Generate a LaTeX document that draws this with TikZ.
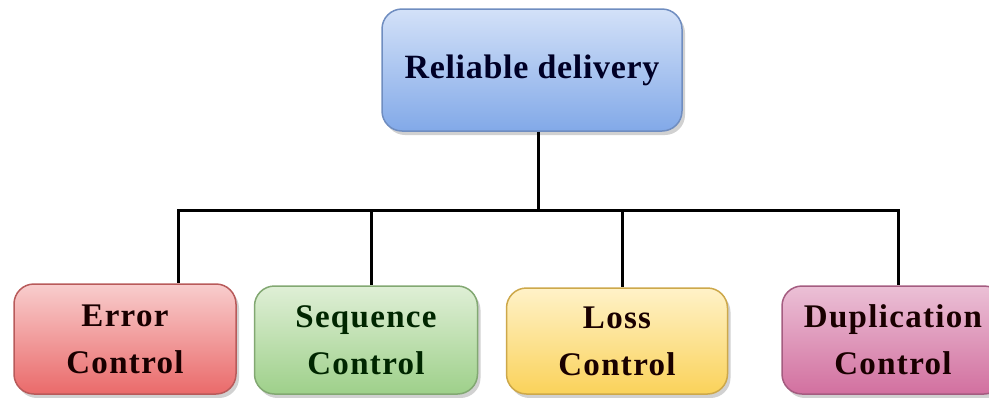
\documentclass[tikz,border=0pt]{standalone}
\usepackage{fontspec}
\setmainfont{Liberation Serif}
\usetikzlibrary{shadows}
\definecolor{bluetop}{HTML}{D3E1F8}
\definecolor{bluebot}{HTML}{82A9E8}
\definecolor{blueline}{HTML}{6F8DC0}
\definecolor{redtop}{HTML}{F8CDCD}
\definecolor{redbot}{HTML}{EA6A6A}
\definecolor{redline}{HTML}{B85A5A}
\definecolor{greentop}{HTML}{DFEFD6}
\definecolor{greenbot}{HTML}{9ED08A}
\definecolor{greenline}{HTML}{82A872}
\definecolor{yellowtop}{HTML}{FFF2C8}
\definecolor{yellowbot}{HTML}{FAD25A}
\definecolor{yellowline}{HTML}{CDA84A}
\definecolor{pinktop}{HTML}{EBC0D6}
\definecolor{pinkbot}{HTML}{D2709F}
\definecolor{pinkline}{HTML}{A45C80}
\begin{document}
\begin{tikzpicture}[x=1pt, y=-1pt,
        box/.style={rounded corners=20pt, line width=1.5pt, align=center, inner sep=0pt,
            font=\fontsize{33}{47}\selectfont\bfseries\addfontfeatures{LetterSpace=4}, text=black!90!red,
            drop shadow={shadow xshift=3pt, shadow yshift=-4pt, fill=black!30, opacity=0.6}},
        link/.style={line width=3pt}]
    \useasboundingbox (0, 0) rectangle (989, 397);
    \node[box, draw=blueline, top color=bluetop, bottom color=bluebot, minimum width=300pt, minimum height=122pt,
        font=\fontsize{34}{40}\selectfont\bfseries\addfontfeatures{LetterSpace=2}, text=black!85!blue] (rel) at (532, 70) {Reliable delivery};
    \node[box, draw=redline, top color=redtop, bottom color=redbot, minimum width=222pt, minimum height=110pt] (err) at (125, 339) {Error\\Control};
    \node[box, draw=greenline, top color=greentop, bottom color=greenbot, minimum width=223pt, minimum height=108pt,
        text=black!85!green] (seq) at (366, 340) {Sequence\\Control};
    \node[box, draw=yellowline, top color=yellowtop, bottom color=yellowbot, minimum width=221pt, minimum height=106pt] (loss) at (617, 341) {Loss\\Control};
    \node[box, draw=pinkline, top color=pinktop, bottom color=pinkbot, minimum width=222pt, minimum height=108pt] (dup) at (893, 340) {Duplication\\Control};
    % tree lines
    \coordinate (hub) at (538, 210);
    \coordinate (brE) at (178, 210);
    \coordinate (brS) at (371, 210);
    \coordinate (brL) at (622, 210);
    \coordinate (brD) at (898, 210);
    \draw[link] (rel.south -| hub) -- (hub);
    \draw[link, line cap=rect] (brE) -- (brD);
    \draw[link] (brE) -- (err.north -| brE);
    \draw[link] (brS) -- (seq.north -| brS);
    \draw[link] (brL) -- (loss.north -| brL);
    \draw[link] (brD) -- (dup.north -| brD);
\end{tikzpicture}
\end{document}
